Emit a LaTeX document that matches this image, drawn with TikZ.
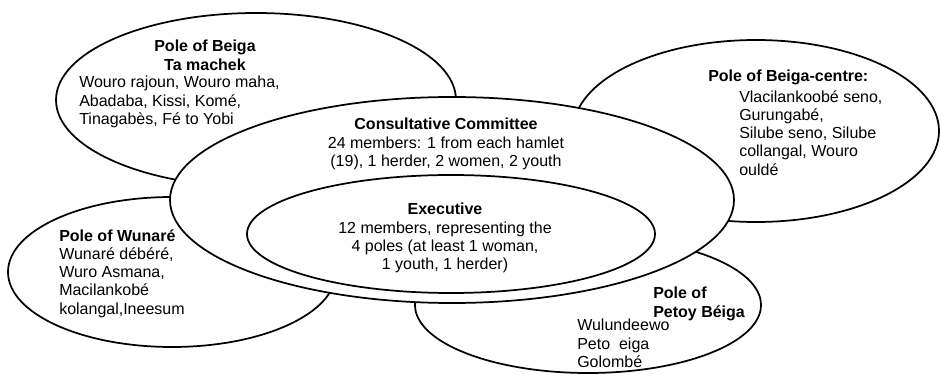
\documentclass[tikz,border=0pt]{standalone}
\usepackage{fontspec}
\setmainfont{Liberation Sans}
\usetikzlibrary{calc}

\begin{document}
\begin{tikzpicture}[x=0.75pt,y=-0.75pt,
            every node/.style={inner sep=0pt,font=\fontsize{12}{13.7}\selectfont},
            pole/.style={draw,fill=white,line width=1.3pt}]

            % Fix the frame of the picture
            \useasboundingbox (0,0) rectangle (940,374);

            % Define the centres of the ellipses
            \coordinate (cTM) at (256,100);
            \coordinate (cBC) at (756,131);
            \coordinate (cWu) at (172,272);
            \coordinate (cPB) at (588,305);
            \coordinate (cCC) at (452,200);
            \coordinate (cEx) at (451,234);

            % the four poles
            \draw[pole] (cTM) ellipse [x radius=200,y radius=87];
            \draw[pole] (cBC) ellipse [x radius=183,y radius=91];
            \draw[pole] (cWu) ellipse [x radius=164,y radius=75];
            \draw[pole] (cPB) ellipse [x radius=173,y radius=68];

            % committee and executive on top
            \draw[pole] (cCC) ellipse [x radius=282,y radius=103];
            \draw[pole] (cEx) ellipse [x radius=204,y radius=59];

            \node[anchor=north,align=center,font=\fontsize{12}{13.7}\selectfont\bfseries] (tTM) at (205,40)
                {Pole of Beiga\\Ta machek};
            \node[anchor=north west,align=left] (bTM) at (79,76)
                {Wouro rajoun, Wouro maha,\\Abadaba, Kissi, Komé,\\Tinagabès, Fé to Yobi};

            \node[anchor=north west,font=\fontsize{12}{13.7}\selectfont\bfseries] (tBC) at (708,70)
                {Pole of Beiga-centre:};
            \node[anchor=north west,align=left] (bBC) at (739,90)
                {Vlacilankoobé seno,\\Gurungabé,\\Silube seno, Silube\\collangal, Wouro\\ouldé};

            \node[anchor=north west,align=left] (tWu) at (59,229)
                {\textbf{Pole of Wunaré}\\Wunaré débéré,\\Wuro Asmana,\\Macilankobé\\kolangal,Ineesum};

            \node[anchor=north west,align=left,font=\fontsize{12}{13.7}\selectfont\bfseries] (tPB) at (653,287)
                {Pole of\\Petoy Béiga};
            \node[anchor=north west,align=left] (bPB) at (577,319)
                {Wulundeewo\\Peto\ \ eiga\\Golombé};

            \node[anchor=north,align=center] (tCC) at (446,118)
                {\textbf{Consultative Committee}\\24 members: 1 from each hamlet\\(19), 1 herder, 2 women, 2 youth};

            \node[anchor=north,align=center] (tEx) at (445,203)
                {\textbf{Executive}\\12 members, representing the\\4 poles (at least 1 woman,\\1 youth, 1 herder)};

            \end{tikzpicture}
\end{document}
